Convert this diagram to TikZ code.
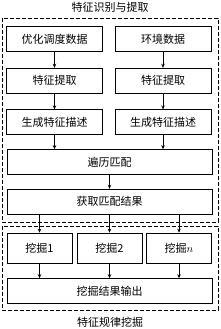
\documentclass[tikz,border=0pt]{standalone}
\usepackage{fontspec}
\newfontfamily\cjk{Noto Sans CJK SC}
\usetikzlibrary{arrows.meta,positioning}
\tikzset{
  box/.style={draw,semithick,minimum height=25pt,inner sep=0pt},
  colbox/.style={box,minimum width=96pt},
  widebox/.style={box,minimum width=205pt},
  minebox/.style={box,minimum width=65pt,minimum height=30pt},
  group/.style={draw,semithick,dash pattern=on 4pt off 2pt},
  flow/.style={-{Stealth[length=4pt,width=3.5pt]},semithick},
}
\begin{document}
\begin{tikzpicture}[x=1pt,y=-1pt,node distance=16pt,
  every node/.style={font=\cjk\fontsize{11}{13}\selectfont}]
  \useasboundingbox (0,0) rectangle (220,329);
  % feature recognition and extraction
  \node[colbox] (opt) at (54.5,39) {优化调度数据};
  \node[colbox] (env) at (163,39) {环境数据};
  \node[colbox,below=of opt] (extL) {特征提取};
  \node[colbox,below=of env] (extR) {特征提取};
  \node[colbox,below=of extL] (descL) {生成特征描述};
  \node[colbox,below=of extR] (descR) {生成特征描述};
  \node[widebox] (match) at (109.5,162) {遍历匹配};
  \node[widebox,below=14pt of match] (result) {获取匹配结果};
  \draw[group] (2,18) rectangle (218,222);
  \node (title1) at (110,7) {特征识别与提取};
  % rule mining
  \node[minebox] (mine1) at (39.5,248) {挖掘1};
  \node[minebox] (mine2) at (109.5,248) {挖掘2};
  \node[minebox] (minen) at (179,248) {挖掘$n$};
  \node[widebox] (out) at (109.5,291) {挖掘结果输出};
  \draw[group] (2,226) rectangle (218,310);
  \node (title2) at (110,322) {特征规律挖掘};
  % arrows
  \draw[flow] (opt)--(extL);\draw[flow] (env)--(extR);
  \draw[flow] (extL)--(descL);\draw[flow] (extR)--(descR);
  \draw[flow] (descL)--(descL|-match.north);
  \draw[flow] (descR)--(descR|-match.north);
  \draw[flow] (match)--(result);
  \foreach \m in {mine1,mine2,minen}{
    \draw[flow] (\m|-result.south)--(\m);
    \draw[flow] (\m)--(\m|-out.north);
  }
\end{tikzpicture}
\end{document}
